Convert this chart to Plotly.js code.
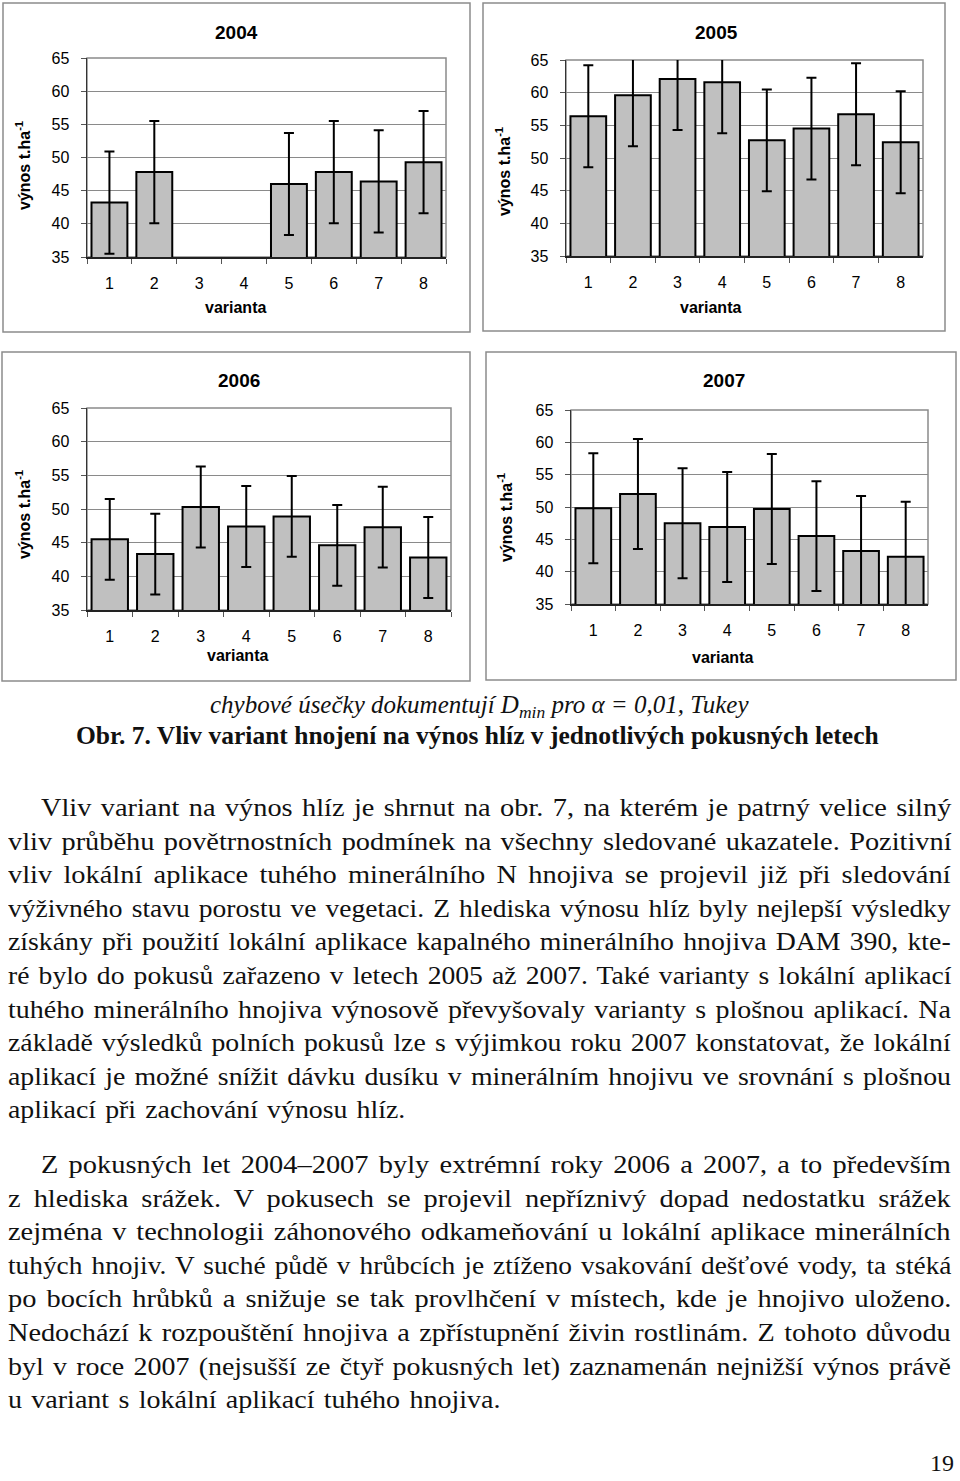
<!DOCTYPE html>
<html>
<head>
<meta charset="utf-8">
<script src="https://cdn.plot.ly/plotly-3.0.1.min.js"></script>
<style>
  html, body { margin: 0; padding: 0; background: #fff; }
  body { width: 960px; height: 1481px; position: relative; overflow: hidden; }
  #chart { position: absolute; left: 0; top: 0; width: 960px; height: 760px; }
  #text { position: absolute; left: 0; top: 0; width: 960px; font-family: "Liberation Serif", serif; font-size: 24.5px; color: #111; }
  .ln { position: absolute; white-space: nowrap; line-height: 34px; transform-origin: 0 50%; }
  #pg { position: absolute; font-family: "Liberation Serif", serif; font-size: 24px; color: #111; }
</style>
</head>
<body>
<div id="chart"></div>
<div id="text"></div>
<div id="pg"></div>
<script>
// ---- data ----
const categories = ['1', '2', '3', '4', '5', '6', '7', '8'];
const years = ['2004', '2005', '2006', '2007'];
const yield2004 = [43.2, 47.8, null, null, 46.0, 47.8, 46.4, 49.3];
const yield2005 = [56.4, 59.6, 62.1, 61.6, 52.7, 54.5, 56.7, 52.4];
const yield2006 = [45.5, 43.3, 50.3, 47.4, 48.9, 44.6, 47.3, 42.8];
const yield2007 = [49.8, 52.0, 47.5, 46.9, 49.7, 45.5, 43.2, 42.3];
const dmin = [7.7, 7.8, 6.0, 8.5];
const yTicks = [35, 40, 45, 50, 55, 60, 65];
const yTitle = 'výnos t.ha<sup>-1</sup>';
const xTitle = 'varianta';
const captionNote = '<i>chybové úsečky dokumentují D<sub>min</sub> pro α = 0,01, Tukey</i>';
const captionTitle = '<b>Obr. 7. Vliv variant hnojení na výnos hlíz v jednotlivých pokusných letech</b>';

const para1 = [
  'Vliv variant na výnos hlíz je shrnut na obr. 7, na kterém je patrný velice silný',
  'vliv průběhu povětrnostních podmínek na všechny sledované ukazatele. Pozitivní',
  'vliv lokální aplikace tuhého minerálního N hnojiva se projevil již při sledování',
  'výživného stavu porostu ve vegetaci. Z hlediska výnosu hlíz byly nejlepší výsledky',
  'získány při použití lokální aplikace kapalného minerálního hnojiva DAM 390, kte-',
  'ré bylo do pokusů zařazeno v letech 2005 až 2007. Také varianty s lokální aplikací',
  'tuhého minerálního hnojiva výnosově převyšovaly varianty s plošnou aplikací. Na',
  'základě výsledků polních pokusů lze s výjimkou roku 2007 konstatovat, že lokální',
  'aplikací je možné snížit dávku dusíku v minerálním hnojivu ve srovnání s plošnou',
  'aplikací při zachování výnosu hlíz.'
];
const para2 = [
  'Z pokusných let 2004–2007 byly extrémní roky 2006 a 2007, a to především',
  'z hlediska srážek. V pokusech se projevil nepříznivý dopad nedostatku srážek',
  'zejména v technologii záhonového odkameňování u lokální aplikace minerálních',
  'tuhých hnojiv. V suché půdě v hrůbcích je ztíženo vsakování dešťové vody, ta stéká',
  'po bocích hrůbků a snižuje se tak provlhčení v místech, kde je hnojivo uloženo.',
  'Nedochází k rozpouštění hnojiva a zpřístupnění živin rostlinám. Z tohoto důvodu',
  'byl v roce 2007 (nejsušší ze čtyř pokusných let) zaznamenán nejnižší výnos právě',
  'u variant s lokální aplikací tuhého hnojiva.'
];
const pageNumber = '19';

// ---- chart layout ----
const W = 960, H = 760;
const px = v => v / W;
const py = v => 1 - v / H;
const series = [yield2004, yield2005, yield2006, yield2007];
// plot areas in pixels [left, right, top, bottom]
const boxes = [[87, 446, 58, 257], [566, 923, 60, 256], [87, 451, 408, 610], [571, 928, 410, 604]];
// panel frames [left, right, top, bottom]
const frames = [[3, 470, 3, 332], [483, 945, 3, 331], [2, 470, 352, 681], [486, 956, 352, 680]];
const titlePos = [[236, 33], [716, 33], [239, 380], [724, 380]];
const xTitlePos = [[235, 307], [710, 307], [237, 655], [722, 657]];
const yTitlePos = [[23, 166], [503, 172], [23, 515], [505, 517]];

const font = 'Liberation Sans, Arial, sans-serif';
const traces = [];
const layout = {
  width: W, height: H,
  margin: {l: 0, r: 0, t: 0, b: 0},
  paper_bgcolor: '#fff', plot_bgcolor: '#fff',
  showlegend: false,
  font: {family: font, color: '#000', size: 16},
  shapes: [], annotations: []
};

series.forEach((ys, i) => {
  const n = i === 0 ? '' : String(i + 1);
  const b = boxes[i];
  traces.push({
    type: 'bar', x: categories, y: ys,
    xaxis: 'x' + n, yaxis: 'y' + n,
    marker: {color: '#c0c0c0', line: {color: '#000', width: 2}},
    error_y: {type: 'constant', value: dmin[i], color: '#000', thickness: 2, width: 5, visible: true},
    hoverinfo: 'skip'
  });
  layout['xaxis' + n] = {
    domain: [px(b[0]), px(b[1])], anchor: 'y' + n,
    type: 'category', range: [-0.5, 7.5], categoryarray: categories,
    tickson: 'boundaries', ticks: 'outside', ticklen: 5, tickcolor: '#555', tickwidth: 1,
    showline: true, linecolor: '#222', linewidth: 1.5,
    showgrid: false, zeroline: false, fixedrange: true,
    tickfont: {family: font, size: 16, color: '#000'}, ticklabelstandoff: 11
  };
  layout['yaxis' + n] = {
    domain: [py(b[3]), py(b[2])], anchor: 'x' + n,
    range: [35, 65], tickvals: yTicks, ticktext: yTicks.map(String),
    ticks: 'outside', ticklen: 5, tickcolor: '#555', tickwidth: 1,
    showline: true, linecolor: '#333', linewidth: 1.5,
    showgrid: true, gridcolor: '#8a8a8a', gridwidth: 1, zeroline: false, fixedrange: true,
    tickfont: {family: font, size: 16, color: '#000'}, ticklabelstandoff: 8
  };
  // plot-area border (grey)
  layout.shapes.push({type: 'rect', xref: 'x' + n + ' domain', yref: 'y' + n + ' domain',
    x0: 0, x1: 1, y0: 0, y1: 1, line: {color: '#8a8a8a', width: 1.5}, layer: 'below'});
  // panel frame
  const f = frames[i];
  layout.shapes.push({type: 'rect', xref: 'paper', yref: 'paper',
    x0: px(f[0]), x1: px(f[1]), y0: py(f[3]), y1: py(f[2]), line: {color: '#8c8c8c', width: 1.5}});
  layout.annotations.push({text: '<b>' + years[i] + '</b>', xref: 'paper', yref: 'paper',
    x: px(titlePos[i][0]), y: py(titlePos[i][1]), showarrow: false, xanchor: 'center', yanchor: 'middle',
    font: {family: font, size: 19, color: '#000'}});
  layout.annotations.push({text: '<b>' + xTitle + '</b>', xref: 'paper', yref: 'paper',
    x: px(xTitlePos[i][0]), y: py(xTitlePos[i][1]), showarrow: false, xanchor: 'center', yanchor: 'middle',
    font: {family: font, size: 16, color: '#000'}});
  layout.annotations.push({text: '<b>' + yTitle + '</b>', xref: 'paper', yref: 'paper', textangle: -90,
    x: px(yTitlePos[i][0]), y: py(yTitlePos[i][1]), showarrow: false, xanchor: 'center', yanchor: 'middle',
    font: {family: font, size: 16, color: '#000'}});
});

layout.annotations.push({text: captionNote, xref: 'paper', yref: 'paper', x: px(479), y: py(706),
  showarrow: false, xanchor: 'center', yanchor: 'middle', font: {family: 'Liberation Serif, serif', size: 25, color: '#111'}});
layout.annotations.push({text: captionTitle, xref: 'paper', yref: 'paper', x: px(477), y: py(735),
  showarrow: false, xanchor: 'center', yanchor: 'middle', font: {family: 'Liberation Serif, serif', size: 25.5, color: '#111'}});

Plotly.newPlot('chart', traces, layout, {staticPlot: true, displayModeBar: false});

// ---- body text, justified line by line ----
const textBox = document.getElementById('text');
function addPara(lines, firstCenter, lastWidth) {
  lines.forEach((t, k) => {
    const el = document.createElement('span');
    el.className = 'ln';
    el.textContent = t;
    const left = k === 0 ? 41 : 8;
    const target = k === lines.length - 1 ? lastWidth : 951 - left;
    el.style.left = left + 'px';
    el.style.top = (firstCenter + k * 33.6 - 17) + 'px';
    textBox.appendChild(el);
    const w0 = el.offsetWidth;
    const gaps = (t.match(/ /g) || []).length;
    // widen glyphs slightly (the original face is wider), keep word gaps modest
    let s = target / (w0 + gaps * 2);
    s = Math.min(1.16, Math.max(1.0, s));
    const ws = gaps ? (target / s - w0) / gaps : 0;
    el.style.wordSpacing = ws + 'px';
    el.style.transform = 'scaleX(' + s + ')';
  });
}
addPara(para1, 808, 397);
addPara(para2, 1165, 492);
const pg = document.getElementById('pg');
pg.textContent = pageNumber;
pg.style.left = '930px';
pg.style.top = '1450px';
</script>
</body>
</html>
